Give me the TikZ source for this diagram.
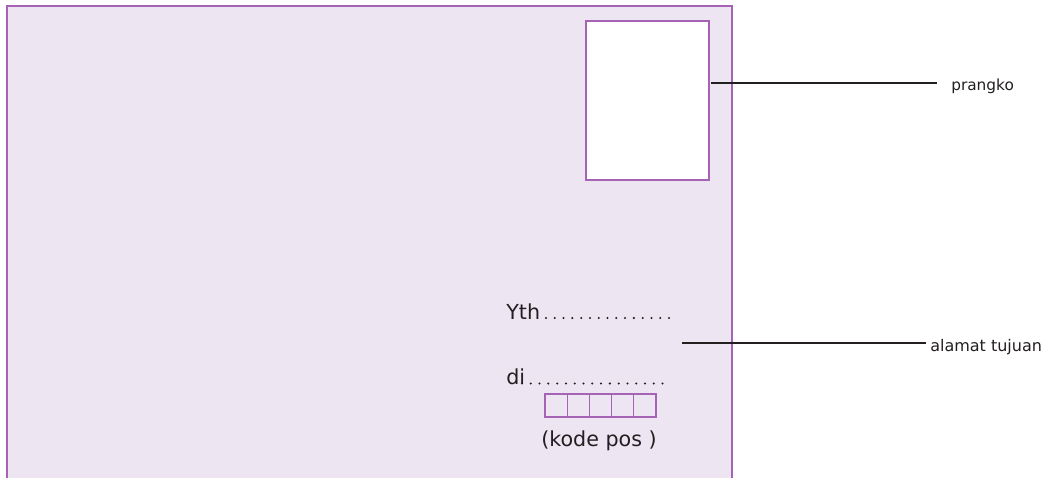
\documentclass[tikz,border=0pt]{standalone}
\usepackage{fontspec}
\setmainfont{DejaVu Sans}
\definecolor{amplop}{HTML}{EDE6F2}
\definecolor{ungu}{HTML}{A662B5}
\definecolor{tinta}{HTML}{231F20}
\begin{document}
\begin{tikzpicture}[x=0.75pt,y=-0.75pt]
                \tikzset{garis/.style={tinta,line width=1.5pt},
                    titik/.style={tinta,line width=1.7pt,line cap=round,dash pattern=on 0pt off 6.59pt},
                    tulisan/.style={text=tinta,inner sep=0pt}}
                \useasboundingbox (0,0) rectangle (1057,478);

                % amplop
                \fill[amplop] (7,6) rectangle (732,478);
                \draw[ungu,line width=1.1pt] (7,478) -- (7,6) -- (732,6) -- (732,478);

                % perangko
                \node[draw=ungu,fill=white,line width=0.9pt,inner sep=0pt,
                    minimum width=92.25pt,minimum height=119.25pt] (perangko) at (647.5,100.5) {};
                \coordinate (ujungperangko) at (711,83);
                \node[tulisan,anchor=base west,font=\fontsize{11.5}{12}\selectfont] (lblprangko) at (951,91) {prangko};
                \draw[garis] (ujungperangko) -- ([xshift=-10.5pt]lblprangko.west |- ujungperangko);

                % alamat
                \node[tulisan,anchor=base west,font=\fontsize{15.5}{17}\selectfont] (yth) at (506,319) {Yth};
                \draw[titik] (546,318) -- (671,318);
                \node[tulisan,anchor=base west,font=\fontsize{15.5}{17}\selectfont] (di) at (506,384.5) {di};
                \draw[titik] (522,383.5) -- (664,383.5);

                \coordinate (ujungalamat) at (682,343);
                \node[tulisan,anchor=base west,font=\fontsize{12}{13}\selectfont] (lblalamat) at (930,351) {alamat tujuan};
                \draw[garis] (ujungalamat) -- ([xshift=-3pt]lblalamat.west |- ujungalamat);

                % kode pos
                \foreach \i in {0,...,4}
                    \draw[ungu,line width=0.9pt] (545+22.2*\i,394) rectangle ++(22.2,23);
                \node[tulisan,anchor=base,font=\fontsize{15.5}{17}\selectfont] (kodepos) at (599,446) {(kode pos )};
            \end{tikzpicture}
\end{document}
